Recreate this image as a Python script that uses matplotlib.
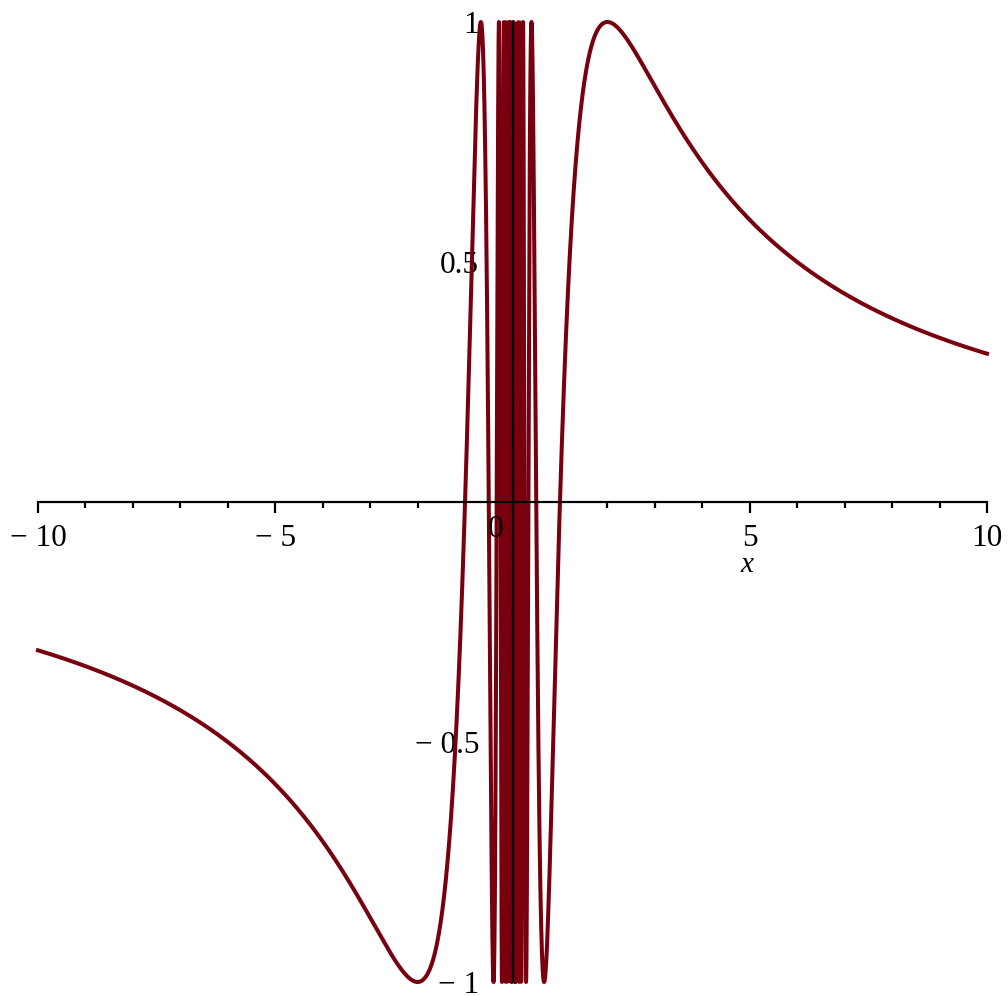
import numpy as np
import matplotlib.pyplot as plt
from matplotlib import font_manager as fm

# plotted function: y = sin(k / x) on [x_min, x_max]
k = np.pi
x_min, x_max = -10, 10
n_samples = 20000

x_major = [-10, -5, 5, 10]
x_major_labels = ["\u2212 10", "\u2212 5", "5", "10"]
y_major = [-1, -0.5, 0.5, 1]
y_major_labels = ["\u2212 1", "\u2212 0.5", "0.5", "1"]

x = np.linspace(x_min, x_max, n_samples)
x = x[x != 0]
y = np.sin(k / x)

# Times-like font, loaded by file so the lookup can't fall back silently
reg_path = fm.findfont(fm.FontProperties(family="Liberation Serif"))
ita_path = fm.findfont(fm.FontProperties(family="Liberation Serif", style="italic"))
tick_fp = fm.FontProperties(fname=reg_path, size=22.5)
lab_fp = fm.FontProperties(fname=ita_path, size=21)

fig = plt.figure(figsize=(10.08, 9.96), dpi=100)
ax = fig.add_axes([38 / 1008, 14 / 996, 949 / 1008, 960 / 996])

ax.plot(x, y, color="#78000E", lw=2.9, clip_on=False, solid_joinstyle="round")

ax.set_xlim(x_min, x_max)
ax.set_ylim(-1, 1)

for s in ["top", "right"]:
    ax.spines[s].set_visible(False)
ax.spines["left"].set_position(("data", 0))
ax.spines["bottom"].set_position(("data", 0))
ax.spines["left"].set_linewidth(1.6)
ax.spines["bottom"].set_linewidth(1.6)
ax.spines["left"].set_zorder(3)

ax.set_xticks(x_major)
ax.set_xticklabels(x_major_labels, fontproperties=tick_fp)
ax.set_xticks(np.arange(-10, 11, 1), minor=True)
ax.set_yticks(y_major)
ax.set_yticklabels(y_major_labels, fontproperties=tick_fp)
ax.set_yticks(np.arange(-1, 1.01, 0.1), minor=True)

ax.tick_params(which="major", direction="out", length=8, width=1.6, pad=8)
ax.tick_params(which="minor", direction="out", length=4.5, width=1.6)
ax.tick_params(axis="y", which="major", pad=16)

# Maple puts the origin label off to the lower left
ax.text(-0.35, -0.058, "0", fontproperties=tick_fp, ha="center", va="center")
ax.text(4.94, -0.132, "x", fontproperties=lab_fp, ha="center", va="center")

fig.savefig("out.png", dpi=100)
